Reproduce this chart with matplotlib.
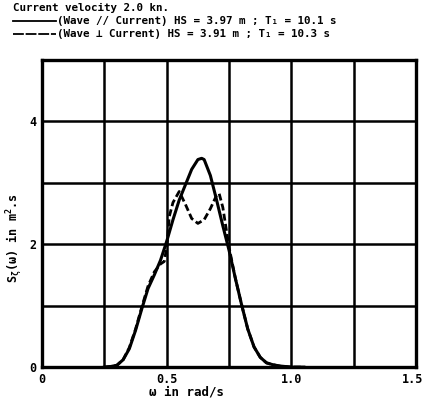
import matplotlib
matplotlib.use("Agg")
import matplotlib.pyplot as plt
import matplotlib.transforms as mtransforms
from matplotlib.lines import Line2D

# omega (rad/s) and spectral density S(omega) (m^2.s)
omega_par = [0.25, 0.275, 0.30, 0.325, 0.35, 0.375, 0.40, 0.425, 0.45, 0.475,
             0.50, 0.525, 0.55, 0.575, 0.60, 0.625, 0.64, 0.65, 0.675, 0.70,
             0.725, 0.75, 0.775, 0.80, 0.825, 0.85, 0.875, 0.90, 0.925, 0.95,
             0.975, 1.00, 1.05]
spec_par = [0.0, 0.01, 0.03, 0.12, 0.30, 0.60, 0.95, 1.28, 1.50, 1.74,
            2.05, 2.40, 2.72, 2.97, 3.22, 3.38, 3.40, 3.38, 3.12, 2.72,
            2.30, 1.90, 1.45, 1.02, 0.62, 0.33, 0.16, 0.07, 0.04, 0.02,
            0.01, 0.0, 0.0]

omega_perp = [0.25, 0.275, 0.30, 0.325, 0.35, 0.375, 0.40, 0.425, 0.45, 0.475,
              0.49, 0.50, 0.51, 0.525, 0.55, 0.575, 0.60, 0.625, 0.65, 0.675,
              0.70, 0.71, 0.725, 0.75, 0.775, 0.80, 0.825, 0.85, 0.875, 0.90,
              0.925, 0.95, 0.975, 1.00, 1.05]
spec_perp = [0.0, 0.01, 0.03, 0.12, 0.32, 0.62, 0.98, 1.32, 1.55, 1.68,
             1.72, 1.95, 2.45, 2.68, 2.86, 2.65, 2.42, 2.34, 2.40, 2.58,
             2.80, 2.83, 2.60, 1.95, 1.45, 1.02, 0.62, 0.33, 0.16, 0.07,
             0.04, 0.02, 0.01, 0.0, 0.0]

x_ticks = [0, 0.25, 0.5, 0.75, 1.0, 1.25, 1.5]
x_labels = ["0", "", "0.5", "", "1.0", "", "1.5"]
y_ticks = [0, 1, 2, 3, 4, 5]
y_labels = ["0", "", "2", "", "4", ""]

title = "Current velocity 2.0 kn."
legend_par = "(Wave // Current) HS = 3.97 m ; T\u2081 = 10.1 s"
legend_perp = "(Wave \u22a5 Current) HS = 3.91 m ; T\u2081 = 10.3 s"
xlabel = "\u03c9 in rad/s"
ylabel = "S$_\u03b6$(\u03c9) in m$^2$.s"

plt.rcParams["font.family"] = ["DejaVu Sans Mono", "DejaVu Sans"]
plt.rcParams["font.weight"] = "bold"
plt.rcParams["mathtext.fontset"] = "custom"
plt.rcParams["mathtext.rm"] = "DejaVu Sans Mono:bold"
plt.rcParams["mathtext.it"] = "DejaVu Sans Mono:bold"
plt.rcParams["mathtext.bf"] = "DejaVu Sans Mono:bold"
plt.rcParams["mathtext.default"] = "rm"

fig = plt.figure(figsize=(4.25, 4.03), dpi=100)
ax = fig.add_axes([0.099, 0.089, 0.880, 0.762])

ax.plot(omega_par, spec_par, color="black", lw=2.2, solid_joinstyle="round")
ax.plot(omega_perp, spec_perp, color="black", lw=2.0, ls=(0, (2.5, 1.2)))

ax.set_xlim(0, 1.5)
ax.set_ylim(0, 5)
ax.set_xticks(x_ticks)
ax.set_xticklabels(x_labels)
ax.set_yticks(y_ticks)
ax.set_yticklabels(y_labels)
ax.tick_params(length=0, labelsize=8.5, pad=4)
ax.grid(True, color="black", lw=1.8)
for s in ax.spines.values():
    s.set_linewidth(2.4)

# keep the last x tick label inside the figure
last = ax.get_xticklabels()[-1]
last.set_horizontalalignment("right")
last.set_transform(last.get_transform() +
                   mtransforms.ScaledTranslation(5 / 72, 0, fig.dpi_scale_trans))

ax.set_xlabel(xlabel, fontsize=9, fontweight="bold")
ax.xaxis.set_label_coords(0.385, -0.06)
ax.set_ylabel(ylabel, fontsize=8.5, fontweight="bold")
ax.yaxis.set_label_coords(-0.045, 0.42)

# header text with legend line samples
fs = 7.8
fig.text(0.031, 0.979, title, fontsize=fs, fontweight="bold", va="center")
fig.add_artist(Line2D([0.031, 0.132], [0.948, 0.948], color="black", lw=1.3,
                      transform=fig.transFigure))
fig.text(0.134, 0.948, legend_par, fontsize=fs, fontweight="bold", va="center")
fig.add_artist(Line2D([0.031, 0.132], [0.916, 0.916], color="black", lw=1.3,
                      ls=(0, (6, 1)), transform=fig.transFigure))
fig.text(0.134, 0.916, legend_perp, fontsize=fs, fontweight="bold", va="center")

fig.savefig("out.png", dpi=100)
